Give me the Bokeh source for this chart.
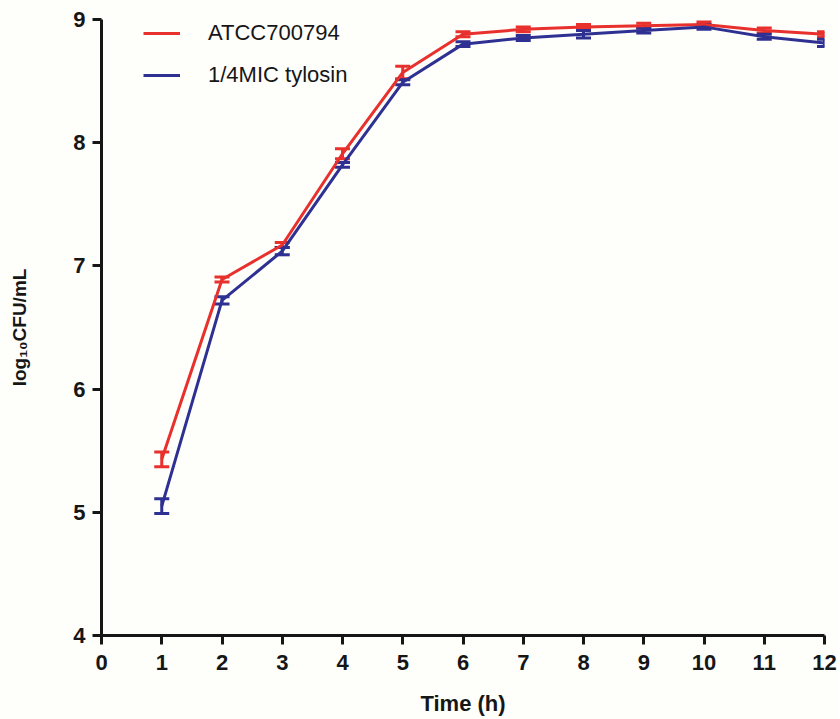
from bokeh.plotting import figure
from bokeh.models import ColumnDataSource, Whisker, TeeHead, Legend, LegendItem, FixedTicker, Range1d
from bokeh.embed import file_html
from bokeh.resources import INLINE

time_h = [1, 2, 3, 4, 5, 6, 7, 8, 9, 10, 11, 12]
atcc_mean = [5.43, 6.89, 7.17, 7.91, 8.57, 8.88, 8.92, 8.94, 8.95, 8.96, 8.91, 8.88]
atcc_err = [0.06, 0.02, 0.02, 0.04, 0.05, 0.02, 0.02, 0.02, 0.02, 0.02, 0.02, 0.02]
tylosin_mean = [5.05, 6.72, 7.12, 7.82, 8.49, 8.80, 8.85, 8.88, 8.91, 8.94, 8.86, 8.81]
tylosin_err = [0.06, 0.03, 0.03, 0.02, 0.02, 0.02, 0.02, 0.03, 0.02, 0.02, 0.02, 0.03]
x_ticks = list(range(0, 13))
y_ticks = [4, 5, 6, 7, 8, 9]

RED = "#e8312d"
BLUE = "#2e3192"
INK = "#161616"
FONT = "Liberation Sans"

p = figure(width=838, height=720, output_backend="svg", toolbar_location=None,
           x_range=Range1d(0, 12), y_range=Range1d(4, 9),
           min_border_left=101, min_border_right=14, min_border_top=19, min_border_bottom=85)
p.outline_line_color = None
p.background_fill_color = "#fefefb"
p.border_fill_color = "#fefefb"
p.grid.visible = False

for ax, ticks in ((p.xaxis, x_ticks), (p.yaxis, y_ticks)):
    ax.ticker = FixedTicker(ticks=ticks)
    ax.axis_line_width = 3
    ax.axis_line_color = INK
    ax.major_tick_line_width = 3
    ax.major_tick_line_color = INK
    ax.major_tick_out = 9
    ax.major_tick_in = 0
    ax.minor_tick_line_color = None
    ax.major_label_text_font = FONT
    ax.major_label_text_font_style = "bold"
    ax.major_label_text_font_size = "22px"
    ax.major_label_text_color = INK
    ax.axis_label_text_font = FONT
    ax.axis_label_text_font_style = "bold"
    ax.axis_label_text_color = INK

p.xaxis.axis_label = "Time (h)"
p.xaxis.axis_label_text_font_size = "22px"
p.xaxis.major_label_standoff = 10
p.xaxis.axis_label_standoff = 18
p.yaxis.axis_label = "log\u2081\u2080CFU/mL"
p.yaxis.axis_label_text_font_size = "19px"
p.yaxis.major_label_standoff = 7
p.yaxis.axis_label_standoff = 40

def series(mean, err, color):
    lo = [m - e for m, e in zip(mean, err)]
    hi = [m + e for m, e in zip(mean, err)]
    src = ColumnDataSource(dict(x=time_h, y=mean, lo=lo, hi=hi))
    r = p.line("x", "y", source=src, line_color=color, line_width=3)
    w = Whisker(base="x", lower="lo", upper="hi", source=src,
                line_color=color, line_width=3,
                upper_head=TeeHead(size=15, line_color=color, line_width=3),
                lower_head=TeeHead(size=15, line_color=color, line_width=3))
    p.add_layout(w)
    return r

r1 = series(atcc_mean, atcc_err, RED)
r2 = series(tylosin_mean, tylosin_err, BLUE)

legend = Legend(items=[LegendItem(label="ATCC700794", renderers=[r1]),
                       LegendItem(label="1/4MIC tylosin", renderers=[r2])])
legend.border_line_color = None
legend.background_fill_alpha = 0
legend.label_text_font = FONT
legend.label_text_font_size = "22px"
legend.label_text_color = INK
legend.glyph_width = 37
legend.glyph_height = 20
legend.label_height = 20
legend.label_standoff = 28
legend.spacing = 16
legend.margin = 0
legend.padding = 0
legend.location = (42, 547)
p.add_layout(legend)

open("out.html", "w").write(file_html(p, INLINE))
